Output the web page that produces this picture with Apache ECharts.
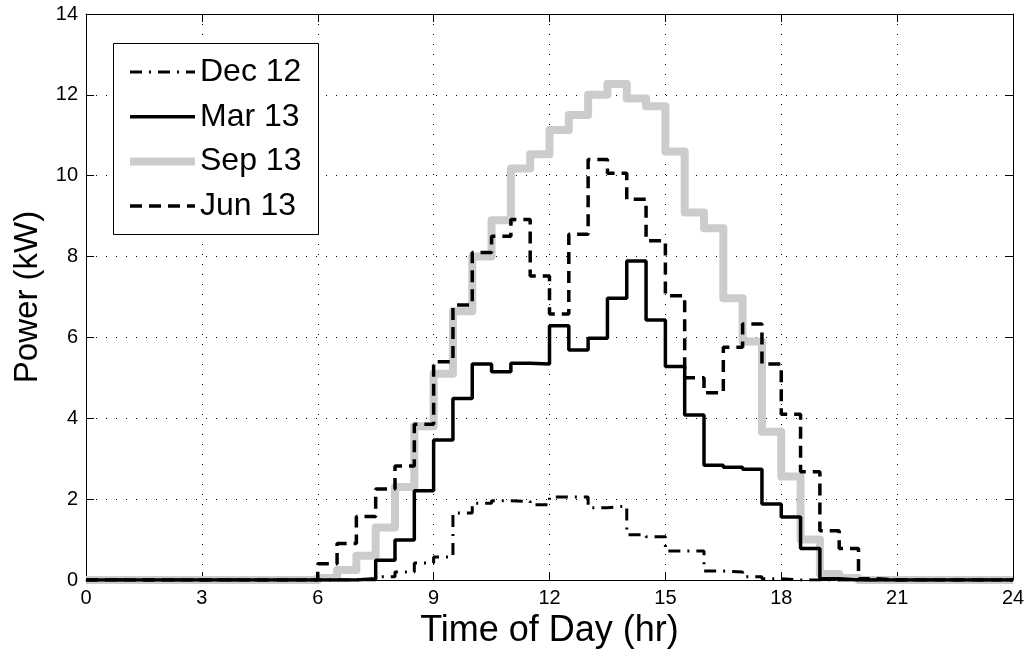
<!DOCTYPE html>
<html>
<head>
<meta charset="utf-8">
<script src="https://cdn.jsdelivr.net/npm/echarts@6/dist/echarts.min.js"></script>
<style>
html,body{margin:0;padding:0;background:#fff;}
#chart{width:1029px;height:656px;}
</style>
</head>
<body>
<div id="chart"></div>
<script>
// half-hour bin start times (hr); last entry closes the final step
const hours = [0,0.5,1,1.5,2,2.5,3,3.5,4,4.5,5,5.5,6,6.5,7,7.5,8,8.5,9,9.5,10,10.5,11,11.5,
  12,12.5,13,13.5,14,14.5,15,15.5,16,16.5,17,17.5,18,18.5,19,19.5,20,20.5,21,21.5,22,22.5,23,23.5,24];

const seriesNames = ['Dec 12','Mar 13','Sep 13','Jun 13'];

const dec12 = [0,0,0,0,0,0,0,0,0,0,0,0,0,0,0,
  0.08,0.2,0.42,0.57,1.66,1.9,1.96,1.94,1.86,2.05,2.05,1.79,1.83,1.12,1.07,0.72,0.72,0.22,0.2,0.08,0.03,
  0,0,0,0,0,0,0,0,0,0,0,0];

const mar13 = [0,0,0,0,0,0,0,0,0,0,0,0,0,0,0.03,
  0.49,0.99,2.21,3.46,4.49,5.34,5.15,5.36,5.34,6.29,5.69,5.98,6.97,7.89,6.43,5.28,4.08,2.84,2.79,2.74,1.88,1.56,0.78,0.03,
  0,0,0,0,0,0,0,0,0];

const sep13 = [0,0,0,0,0,0,0,0,0,0,0,0,0.05,
  0.25,0.6,1.3,2.3,3.8,5.1,6.65,8.0,8.9,10.18,10.53,11.13,11.5,12.0,12.27,11.91,11.72,10.6,9.09,8.7,6.97,5.9,3.67,2.56,1.0,0.15,0.05,
  0,0,0,0,0,0,0,0];

const jun13 = [0,0,0,0,0,0,0,0,0,0,0,0,
  0.4,0.9,1.57,2.25,2.82,3.85,5.4,6.8,8.1,8.5,8.92,7.52,6.58,8.55,10.4,10.06,9.42,8.39,7.03,5.0,4.63,5.76,6.33,5.34,4.1,2.68,1.22,0.78,0.03,
  0,0,0,0,0,0,0];

const xTicks = {min:0, max:24, interval:3};
const yTicks = {min:0, max:14, interval:2};

function pairs(vals){
  return hours.map((h,i)=>[h, i < vals.length ? vals[i] : vals[vals.length-1]]);
}

const FONT = 'Liberation Sans, Arial, Helvetica, sans-serif';
const chart = echarts.init(document.getElementById('chart'), null, {renderer:'canvas'});

const gridDots = {show:true, lineStyle:{color:'#000', width:1, type:[1,9]}};

const styles = {
  'Dec 12': {color:'#000', width:3, type:[12,7,2,7]},
  'Mar 13': {color:'#000', width:3.5, type:'solid'},
  'Sep 13': {color:'#cccccc', width:8, type:'solid'},
  'Jun 13': {color:'#000', width:3.5, type:[12,7]}
};

const option = {
  backgroundColor:'#fff',
  animation:false,
  grid:{left:86, right:16, top:14, bottom:76, containLabel:false},
  xAxis:[{
    type:'value', min:xTicks.min, max:xTicks.max, interval:xTicks.interval,
    position:'bottom',
    name:'Time of Day (hr)', nameLocation:'middle', nameGap:29,
    nameTextStyle:{fontSize:36, color:'#000', fontFamily:FONT},
    axisLine:{show:true, onZero:false, lineStyle:{color:'#000', width:1}},
    axisTick:{show:true, inside:true, length:8, lineStyle:{color:'#000'}},
    axisLabel:{fontSize:20, color:'#000', fontFamily:FONT, margin:8},
    splitLine:gridDots
  },{
    type:'value', min:xTicks.min, max:xTicks.max, interval:xTicks.interval,
    position:'top',
    axisLine:{show:true, onZero:false, lineStyle:{color:'#000', width:1}},
    axisTick:{show:true, inside:true, length:8, lineStyle:{color:'#000'}},
    axisLabel:{show:false}, splitLine:{show:false}
  }],
  yAxis:[{
    type:'value', min:yTicks.min, max:yTicks.max, interval:yTicks.interval,
    position:'left',
    name:'Power (kW)', nameLocation:'middle', nameGap:40,
    nameTextStyle:{fontSize:33, color:'#000', fontFamily:FONT},
    axisLine:{show:true, onZero:false, lineStyle:{color:'#000', width:1}},
    axisTick:{show:true, inside:true, length:8, lineStyle:{color:'#000'}},
    axisLabel:{fontSize:20, color:'#000', fontFamily:FONT, margin:8},
    splitLine:gridDots
  },{
    type:'value', min:yTicks.min, max:yTicks.max, interval:yTicks.interval,
    position:'right',
    axisLine:{show:true, onZero:false, lineStyle:{color:'#000', width:1}},
    axisTick:{show:true, inside:true, length:8, lineStyle:{color:'#000'}},
    axisLabel:{show:false}, splitLine:{show:false}
  }],
  graphic:[{
    type:'rect', left:113, top:43, z:50,
    shape:{width:205, height:191},
    style:{fill:'#fff', stroke:'#000', lineWidth:1}
  }],
  legend:{
    show:true, orient:'vertical', left:113, top:43, z:60,
    padding:[12,11,11,13],
    itemWidth:65, itemHeight:14, itemGap:10.7,
    data:seriesNames.map(n=>({name:n, lineStyle:{width:styles[n].width, color:styles[n].color, type:styles[n].type}})),
    itemStyle:{color:'rgba(0,0,0,0)', borderWidth:0, borderColor:'rgba(0,0,0,0)'},
    textStyle:{fontSize:32, color:'#000', fontFamily:FONT, lineHeight:34},
    selectedMode:false
  },
  series:[
    {name:'Sep 13', type:'line', step:'end', symbol:'none', data:pairs(sep13),
      lineStyle:Object.assign({join:'round'}, styles['Sep 13']), itemStyle:{color:'#cccccc'}},
    {name:'Mar 13', type:'line', step:'end', symbol:'none', data:pairs(mar13),
      lineStyle:styles['Mar 13'], itemStyle:{color:'#000'}},
    {name:'Jun 13', type:'line', step:'end', symbol:'none', data:pairs(jun13),
      lineStyle:styles['Jun 13'], itemStyle:{color:'#000'}},
    {name:'Dec 12', type:'line', step:'end', symbol:'none', data:pairs(dec12),
      lineStyle:styles['Dec 12'], itemStyle:{color:'#000'}}
  ]
};
chart.setOption(option);
</script>
</body>
</html>
